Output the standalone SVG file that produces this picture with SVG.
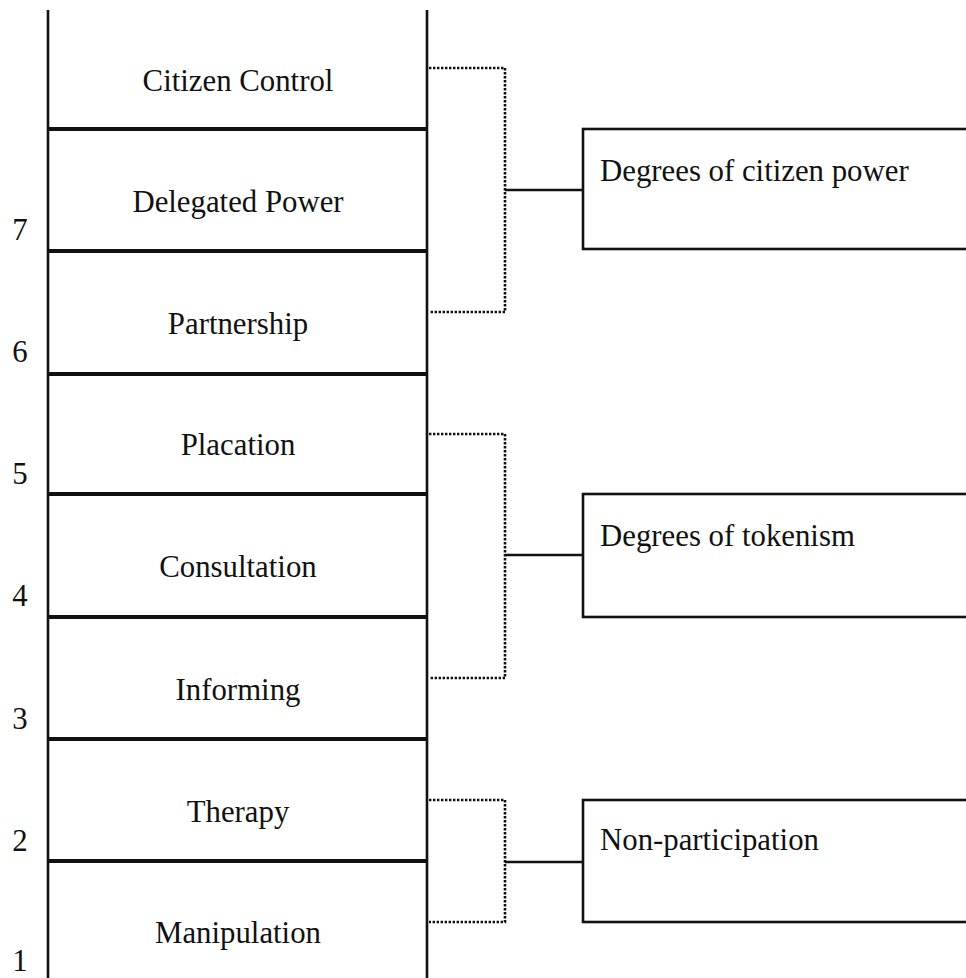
<svg xmlns="http://www.w3.org/2000/svg" width="966" height="978" viewBox="0 0 966 978">
<style>
text{font-family:"Liberation Serif","Times New Roman",serif;font-size:30.8px;fill:#111}
.c{text-anchor:middle}
.rail{stroke:#111;stroke-width:2.6;fill:none}
.rung{stroke:#111;stroke-width:4;fill:none}
.box{stroke:#111;stroke-width:2.6;fill:#fff}
.dot{stroke:#111;stroke-width:2.6;fill:none;stroke-dasharray:2.4 1.6}
.tick{stroke:#111;stroke-width:2.6;fill:none}
</style>
<rect width="966" height="978" fill="#fff"/>
<g id="ladder">
<line class="rail" x1="48" y1="10" x2="48" y2="978"/>
<line class="rail" x1="427" y1="10" x2="427" y2="978"/>
<line class="rung" x1="48" y1="129" x2="427" y2="129"/>
<line class="rung" x1="48" y1="251" x2="427" y2="251"/>
<line class="rung" x1="48" y1="374" x2="427" y2="374"/>
<line class="rung" x1="48" y1="494" x2="427" y2="494"/>
<line class="rung" x1="48" y1="617" x2="427" y2="617"/>
<line class="rung" x1="48" y1="739" x2="427" y2="739"/>
<line class="rung" x1="48" y1="861" x2="427" y2="861"/>
</g>
<g id="rung-citizen-control"><text class="c" x="238" y="91">Citizen Control</text></g>
<g id="rung-delegated-power"><text class="c" x="238" y="212">Delegated Power</text></g>
<g id="rung-partnership"><text class="c" x="238" y="334">Partnership</text></g>
<g id="rung-placation"><text class="c" x="238" y="455">Placation</text></g>
<g id="rung-consultation"><text class="c" x="238" y="577">Consultation</text></g>
<g id="rung-informing"><text class="c" x="238" y="700">Informing</text></g>
<g id="rung-therapy"><text class="c" x="238" y="822">Therapy</text></g>
<g id="rung-manipulation"><text class="c" x="238" y="943">Manipulation</text></g>
<g id="numbers">
<text class="c" x="20" y="240">7</text>
<text class="c" x="20" y="362">6</text>
<text class="c" x="20" y="484">5</text>
<text class="c" x="20" y="606">4</text>
<text class="c" x="20" y="729">3</text>
<text class="c" x="20" y="851">2</text>
<text class="c" x="20" y="971">1</text>
</g>
<g id="connectors">
<path class="dot" d="M429,68 H505 V312 H429"/>
<path class="dot" d="M429,434 H505 V678 H429"/>
<path class="dot" d="M429,800 H505 V922 H429"/>
<line class="tick" x1="505" y1="190" x2="583" y2="190"/>
<line class="tick" x1="505" y1="555" x2="583" y2="555"/>
<line class="tick" x1="505" y1="862" x2="583" y2="862"/>
</g>
<g id="group-citizen-power"><rect class="box" x="583" y="129" width="400" height="120"/><text x="600" y="181">Degrees of citizen power</text></g>
<g id="group-tokenism"><rect class="box" x="583" y="494" width="400" height="123"/><text x="600" y="546">Degrees of tokenism</text></g>
<g id="group-non-participation"><rect class="box" x="583" y="800" width="400" height="122"/><text x="600" y="850">Non-participation</text></g>
</svg>
